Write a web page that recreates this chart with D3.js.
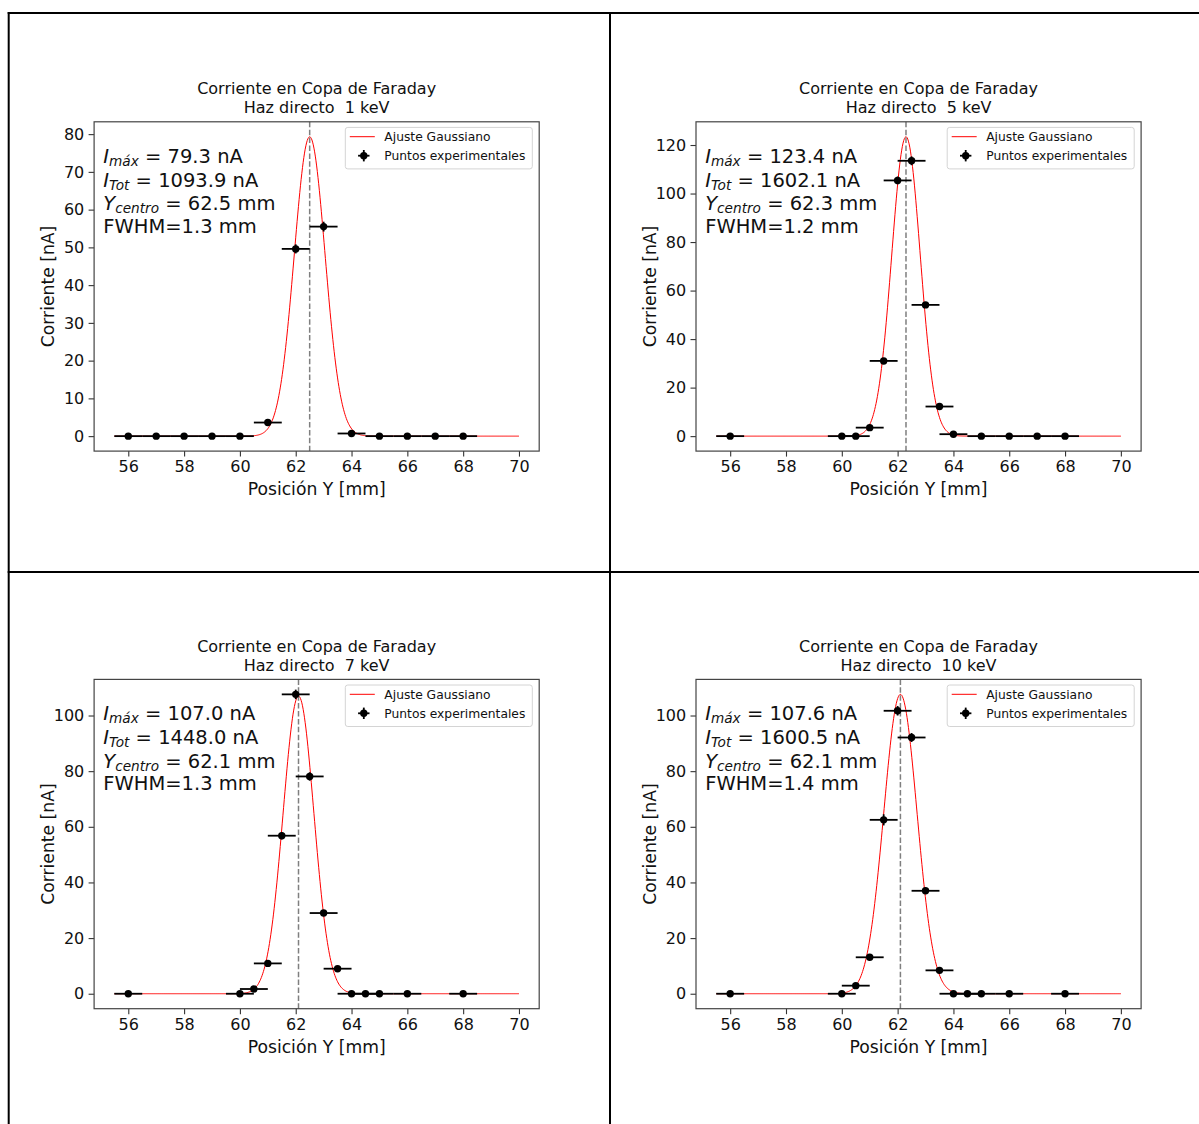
<!DOCTYPE html>
<html><head><meta charset="utf-8">
<script src="https://cdn.jsdelivr.net/npm/d3@7"></script>
<style>
body{margin:0;background:#fff}
svg{display:block}
text{font-family:"DejaVu Sans",sans-serif}
</style>
</head><body>
<script>
// ---------- data ----------
const energyLabels = ["1 keV", "5 keV", "7 keV", "10 keV"];
const positions1 = [56, 57, 58, 59, 60, 61, 62, 63, 64, 65, 66, 67, 68];
const currents1  = [0, 0, 0, 0, 0, 3.6, 49.6, 55.5, 0.7, 0, 0, 0, 0];
const currentErr1 = [0.2, 0.2, 0.2, 0.2, 0.2, 0.4, 1.2, 1.3, 0.3, 0.2, 0.2, 0.2, 0.2];
const positions2 = [56, 60, 60.5, 61, 61.5, 62, 62.5, 63, 63.5, 64, 65, 66, 67, 68];
const currents2  = [0, 0, 0, 3.5, 31.0, 105.4, 113.5, 54.1, 12.2, 0.8, 0, 0, 0, 0];
const currentErr2 = [0.2, 0.2, 0.2, 0.4, 1.0, 1.6, 1.8, 1.2, 0.6, 0.3, 0.2, 0.2, 0.2, 0.2];
const positions3 = [56, 60, 60.5, 61, 61.5, 62, 62.5, 63, 63.5, 64, 64.5, 65, 66, 68];
const currents3  = [0, 0, 1.7, 10.9, 56.8, 107.6, 78.1, 29.0, 9.0, 0, 0, 0, 0, 0];
const currentErr3 = [0.2, 0.2, 0.3, 0.6, 1.3, 1.7, 1.5, 0.9, 0.5, 0.2, 0.2, 0.2, 0.2, 0.2];
const positions4 = [56, 60, 60.5, 61, 61.5, 62, 62.5, 63, 63.5, 64, 64.5, 65, 66, 68];
const currents4  = [0, 0, 2.9, 13.1, 62.5, 101.7, 92.1, 37.0, 8.4, 0, 0, 0, 0, 0];
const currentErr4 = [0.2, 0.2, 0.3, 0.7, 2.0, 1.7, 1.6, 1.0, 0.5, 0.2, 0.2, 0.2, 0.2, 0.2];
const positionErr = 0.5;
const fitPeak   = [79.3, 123.4, 107.0, 107.6];
const fitTotal  = [1093.9, 1602.1, 1448.0, 1600.5];
const fitCenter = [62.5, 62.3, 62.1, 62.1];
const fitFWHM   = [1.3, 1.2, 1.3, 1.4];
const fitRange  = [55.5, 70];
const xTicks = [56, 58, 60, 62, 64, 66, 68, 70];
const yTicks1 = [0, 10, 20, 30, 40, 50, 60, 70, 80];
const yTicks2 = [0, 20, 40, 60, 80, 100, 120];
const yTicks3 = [0, 20, 40, 60, 80, 100];
const yTicks4 = [0, 20, 40, 60, 80, 100];
const titleLine1 = "Corriente en Copa de Faraday";
const titlePrefix = "Haz directo  ";
const xLabel = "Posición Y [mm]";
const yLabel = "Corriente [nA]";
const legendLabels = ["Ajuste Gaussiano", "Puntos experimentales"];

// ---------- layout ----------
const W = 1199, H = 1124;
const svg = d3.select("body").append("svg").attr("width", W).attr("height", H);
svg.append("rect").attr("width", W).attr("height", H).attr("fill", "#fff");

const panels = [
  {pos: positions1, cur: currents1, err: currentErr1, yt: yTicks1},
  {pos: positions2, cur: currents2, err: currentErr2, yt: yTicks2},
  {pos: positions3, cur: currents3, err: currentErr3, yt: yTicks3},
  {pos: positions4, cur: currents4, err: currentErr4, yt: yTicks4}
];
const colX = [94.1, 696.0];
const rowY = [121.8, 679.4];
const PW = 445.1, PH = 329.3;

const pad = (lo, hi) => { const r = hi - lo; return [lo - 0.05 * r, hi + 0.05 * r]; };

panels.forEach((p, i) => {
  const ox = colX[i % 2], oy = rowY[Math.floor(i / 2)];
  const g = svg.append("g").attr("transform", `translate(${ox},${oy})`);
  const x = d3.scaleLinear().domain(pad(fitRange[0], fitRange[1])).range([0, PW]);
  const yMax = Math.max(fitPeak[i], d3.max(p.cur));
  const yMin = Math.min(0, d3.min(p.cur));
  const y = d3.scaleLinear().domain(pad(yMin, yMax)).range([PH, 0]);

  // gaussian fit curve
  const sigma = fitFWHM[i] / (2 * Math.sqrt(2 * Math.log(2)));
  const xs = d3.range(0, 601).map(k => fitRange[0] + (fitRange[1] - fitRange[0]) * k / 600);
  const line = d3.line().x(d => x(d)).y(d => y(fitPeak[i] * Math.exp(-((d - fitCenter[i]) ** 2) / (2 * sigma * sigma))));
  g.append("path").datum(xs).attr("d", line).attr("fill", "none").attr("stroke", "#ff0000").attr("stroke-width", 1);

  // center dashed line
  g.append("line").attr("x1", x(fitCenter[i])).attr("x2", x(fitCenter[i]))
    .attr("y1", 0).attr("y2", PH).attr("stroke", "#7f7f7f").attr("stroke-width", 1.5)
    .attr("stroke-dasharray", "5.5,2.4");

  // error bars
  const pts = p.pos.map((v, k) => ({x: v, y: p.cur[k], e: p.err[k]}));
  g.selectAll(".xe").data(pts).join("line")
    .attr("x1", d => x(d.x - positionErr)).attr("x2", d => x(d.x + positionErr))
    .attr("y1", d => y(d.y)).attr("y2", d => y(d.y))
    .attr("stroke", "#000").attr("stroke-width", 1.8);
  g.selectAll(".ye").data(pts).join("line")
    .attr("x1", d => x(d.x)).attr("x2", d => x(d.x))
    .attr("y1", d => y(d.y - d.e)).attr("y2", d => y(d.y + d.e))
    .attr("stroke", "#000").attr("stroke-width", 1.8);
  g.selectAll("circle.pt").data(pts).join("circle")
    .attr("cx", d => x(d.x)).attr("cy", d => y(d.y)).attr("r", 3.7).attr("fill", "#000");

  // axes
  const xa = g.append("g").attr("transform", `translate(0,${PH})`)
    .call(d3.axisBottom(x).tickValues(xTicks).tickSize(5.5).tickPadding(4).tickFormat(d3.format("d")));
  const ya = g.append("g")
    .call(d3.axisLeft(y).tickValues(p.yt).tickSize(5.5).tickPadding(4.3).tickFormat(d3.format("d")));
  [xa, ya].forEach(a => {
    a.select(".domain").remove();
    a.selectAll(".tick line").attr("stroke", "#333").attr("stroke-width", 1.1);
    a.selectAll(".tick text").attr("font-size", 16).attr("fill", "#111").attr("font-family", "DejaVu Sans");
  });
  g.append("rect").attr("x", 0).attr("y", 0).attr("width", PW).attr("height", PH)
    .attr("fill", "none").attr("stroke", "#444").attr("stroke-width", 1.2);

  // labels
  g.append("text").attr("x", PW / 2).attr("y", PH + 44.4).attr("text-anchor", "middle")
    .attr("font-size", 17.2).attr("fill", "#111").text(xLabel);
  g.append("text").attr("transform", `translate(-40,${PH / 2}) rotate(-90)`).attr("text-anchor", "middle")
    .attr("font-size", 17.2).attr("fill", "#111").text(yLabel);
  g.append("text").attr("x", PW / 2).attr("y", -27.5).attr("text-anchor", "middle")
    .attr("font-size", 16).attr("fill", "#111").text(titleLine1);
  g.append("text").attr("x", PW / 2).attr("y", -8.5).attr("text-anchor", "middle")
    .attr("font-size", 16).attr("fill", "#111").style("white-space", "pre").attr("xml:space", "preserve")
    .text(titlePrefix + energyLabels[i]);

  // annotation
  const fs = 19.5, tx = 9.2;
  const ann = [
    {main: "I", sub: "máx", rest: " = " + fitTotal[i] * 0 + "", val: fitPeak[i].toFixed(1) + " nA", off: 41},
    {main: "I", sub: "Tot", val: fitTotal[i].toFixed(1) + " nA", off: 65},
    {main: "Y", sub: "centro", val: fitCenter[i].toFixed(1) + " mm", off: 88.7}
  ];
  ann.forEach(a => {
    const t = g.append("text").attr("x", tx).attr("y", a.off).attr("font-size", fs).attr("fill", "#111")
      .attr("xml:space", "preserve").style("white-space", "pre");
    t.append("tspan").attr("font-style", "italic").text(a.main);
    t.append("tspan").attr("font-style", "italic").attr("font-size", fs * 0.7).attr("dy", 3).text(a.sub);
    t.append("tspan").attr("dy", -3).text(" = " + a.val);
  });
  g.append("text").attr("x", tx).attr("y", 111).attr("font-size", fs).attr("fill", "#111")
    .text("FWHM=" + fitFWHM[i].toFixed(1) + " mm");

  // legend
  const lw = 187, lh = 41.5;
  const lg = g.append("g").attr("transform", `translate(${PW - 6.9 - lw},5.6)`);
  lg.append("rect").attr("width", lw).attr("height", lh).attr("rx", 2.5)
    .attr("fill", "#fff").attr("fill-opacity", 0.8).attr("stroke", "#d4d4d4").attr("stroke-width", 1);
  lg.append("line").attr("x1", 4.5).attr("x2", 29.5).attr("y1", 9.3).attr("y2", 9.3)
    .attr("stroke", "#ff0000").attr("stroke-width", 1);
  lg.append("line").attr("x1", 12.8).attr("x2", 24.2).attr("y1", 28.3).attr("y2", 28.3).attr("stroke", "#000").attr("stroke-width", 1.8);
  lg.append("line").attr("x1", 18.5).attr("x2", 18.5).attr("y1", 22.6).attr("y2", 34).attr("stroke", "#000").attr("stroke-width", 1.8);
  lg.append("circle").attr("cx", 18.5).attr("cy", 28.3).attr("r", 3.7).attr("fill", "#000");
  legendLabels.forEach((l, k) => {
    lg.append("text").attr("x", 39).attr("y", 9.3 + k * 19 + 4.4).attr("font-size", 12.3).attr("fill", "#111").text(l);
  });
});

// table borders
const border = (x1, y1, x2, y2) => svg.append("line").attr("x1", x1).attr("y1", y1).attr("x2", x2).attr("y2", y2)
  .attr("stroke", "#000").attr("stroke-width", 2);
border(7.7, 13, W, 13);
border(7.7, 572, W, 572);
border(8.7, 12, 8.7, H);
border(610, 12, 610, H);
</script>
</body></html>
